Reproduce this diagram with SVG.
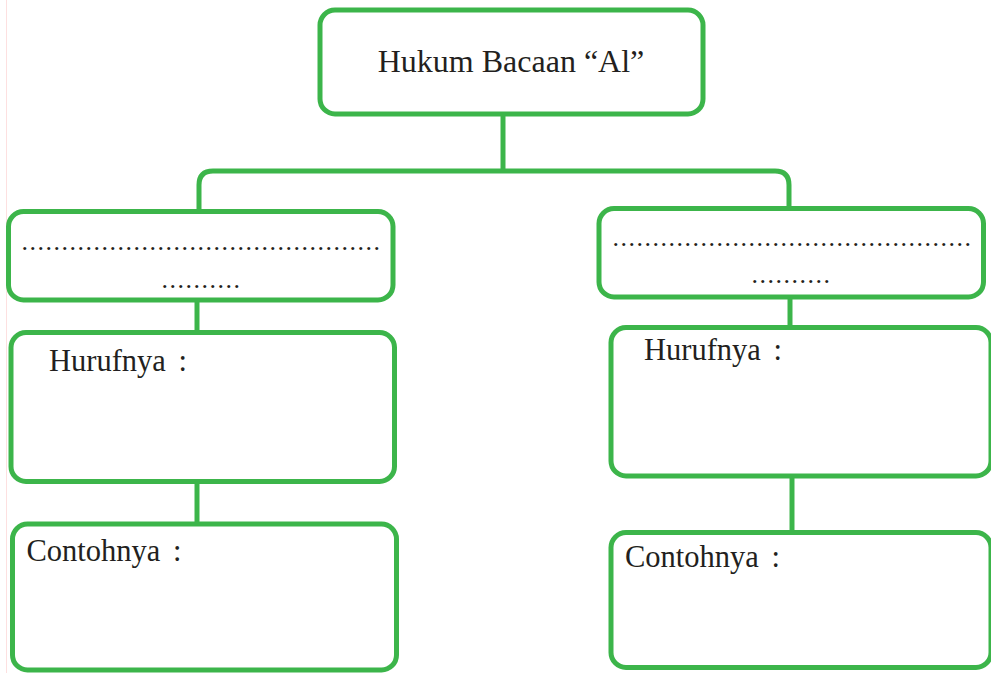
<svg xmlns="http://www.w3.org/2000/svg" width="991" height="673" viewBox="0 0 991 673">
<style>
.box{fill:#ffffff;stroke:#3cb54a;stroke-width:5}
.conn{fill:none;stroke:#3cb54a;stroke-width:5}
.t{font-family:"Liberation Serif","Times New Roman",serif;fill:#231f20}
.title{font-size:32px}
.lbl{font-size:30.5px;word-spacing:5px}
.dots{font-size:26px;letter-spacing:1.5px}
</style>
<rect x="0" y="0" width="991" height="673" fill="#ffffff"/>
<line x1="6.5" y1="0" x2="6.5" y2="673" stroke="#fde0e0" stroke-width="1"/>
<g id="connectors">
<line class="conn" x1="503" y1="113" x2="503" y2="171"/>
<path class="conn" d="M199,212 V185 Q199,171 213,171 H775 Q789,171 789,185 V209"/>
<line class="conn" x1="197" y1="300" x2="197" y2="333"/>
<line class="conn" x1="197" y1="481" x2="197" y2="524"/>
<line class="conn" x1="790" y1="297" x2="790" y2="328"/>
<line class="conn" x1="792" y1="476" x2="792" y2="533"/>
</g>
<g id="root">
<rect class="box" x="320" y="10" width="383" height="104" rx="15"/>
<text class="t title" x="511" y="72" text-anchor="middle">Hukum Bacaan “Al”</text>
</g>
<g id="left-type">
<rect class="box" x="8.5" y="211.5" width="384.5" height="88.5" rx="15"/>
<text class="t dots" x="21.5" y="249.5">.............................................</text>
<text class="t dots" x="161.5" y="287.5">..........</text>
</g>
<g id="left-letters">
<rect class="box" x="11" y="332.5" width="383.5" height="149" rx="15"/>
<text class="t lbl" x="49" y="371">Hurufnya :</text>
</g>
<g id="left-examples">
<rect class="box" x="12.5" y="524" width="384" height="146" rx="15"/>
<text class="t lbl" x="26.5" y="561">Contohnya :</text>
</g>
<g id="right-type">
<rect class="box" x="599" y="208.5" width="384.5" height="88.5" rx="15"/>
<text class="t dots" x="612.5" y="245.5">.............................................</text>
<text class="t dots" x="751.5" y="283">..........</text>
</g>
<g id="right-letters">
<rect class="box" x="611" y="327.5" width="380" height="148.5" rx="15"/>
<text class="t lbl" x="644" y="360">Hurufnya :</text>
</g>
<g id="right-examples">
<rect class="box" x="611" y="532.5" width="380" height="135" rx="15"/>
<text class="t lbl" x="625" y="567">Contohnya :</text>
</g>
</svg>
